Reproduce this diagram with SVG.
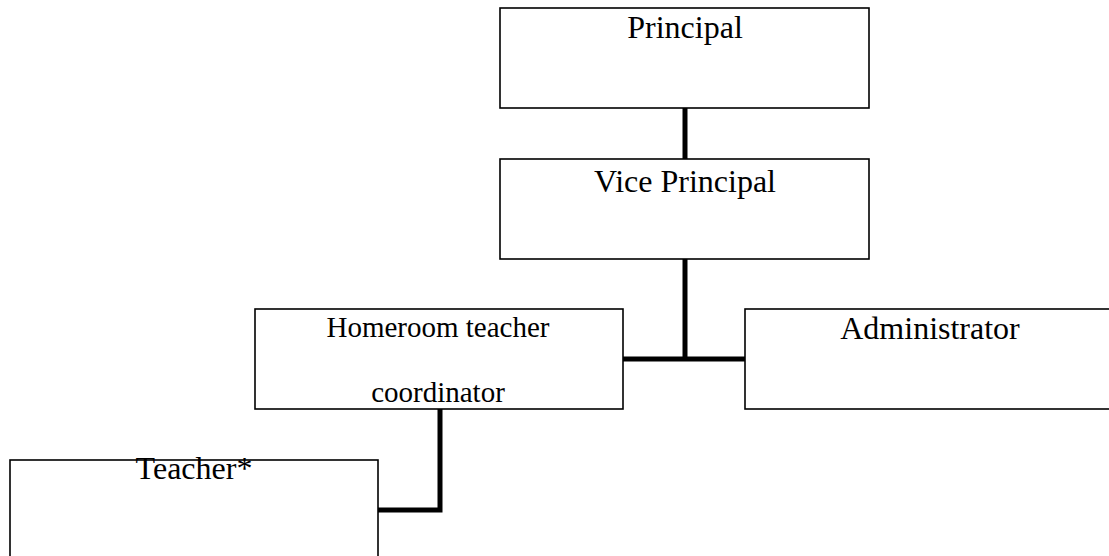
<svg xmlns="http://www.w3.org/2000/svg" width="1109" height="556" viewBox="0 0 1109 556">
<style>
.box{fill:#fff;stroke:#000;stroke-width:1.6}
.lbl{font-family:"Liberation Serif","Times New Roman",serif;font-size:32px;fill:#000;text-anchor:middle}
.sm{font-size:29px}
.conn{fill:none;stroke:#000;stroke-width:5}
</style>
<rect width="1109" height="556" fill="#fff"/>
<g id="connectors">
<line class="conn" x1="685" y1="108" x2="685" y2="159"/>
<line class="conn" x1="685" y1="259" x2="685" y2="359"/>
<line class="conn" x1="623" y1="359" x2="745" y2="359"/>
<polyline class="conn" points="440,409 440,510 378,510"/>
</g>
<g id="principal">
<rect class="box" x="500" y="8" width="369" height="100"/>
<text class="lbl" x="685" y="38">Principal</text>
</g>
<g id="vice-principal">
<rect class="box" x="500" y="159" width="369" height="100"/>
<text class="lbl" x="685" y="192">Vice Principal</text>
</g>
<g id="homeroom">
<rect class="box" x="255" y="309" width="368" height="100"/>
<text class="lbl sm" x="438" y="337">Homeroom teacher</text>
<text class="lbl sm" x="438" y="402">coordinator</text>
</g>
<g id="administrator">
<rect class="box" x="745" y="309" width="372" height="100"/>
<text class="lbl" x="930" y="339">Administrator</text>
</g>
<g id="teacher">
<rect class="box" x="10" y="460" width="368" height="110"/>
<text class="lbl" x="194" y="479">Teacher*</text>
</g>
</svg>
